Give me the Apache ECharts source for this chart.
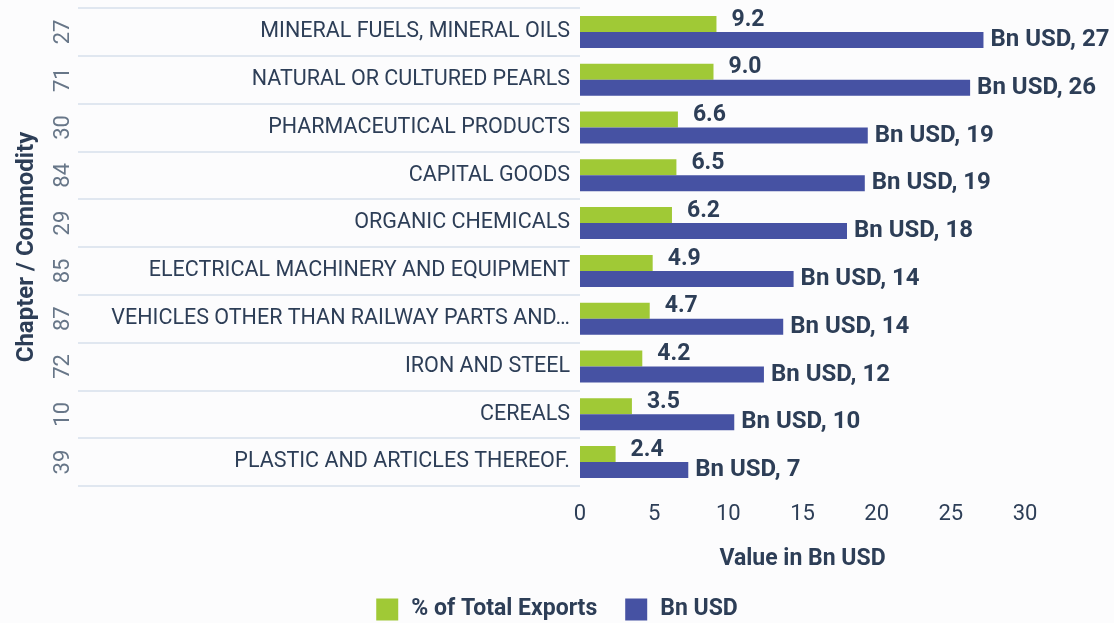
<!DOCTYPE html>
<html>
<head>
<meta charset="utf-8">
<script src="https://cdn.jsdelivr.net/npm/echarts@6/dist/echarts.min.js"></script>
<style>
  html, body { margin: 0; padding: 0; background: #fcfcfd; }
  #main { width: 1114px; height: 623px; }
</style>
</head>
<body>
<div id="main"></div>
<script>
var chapters = ['27', '71', '30', '84', '29', '85', '87', '72', '10', '39'];
var commodities = [
  'MINERAL FUELS, MINERAL OILS',
  'NATURAL OR CULTURED PEARLS',
  'PHARMACEUTICAL PRODUCTS',
  'CAPITAL GOODS',
  'ORGANIC CHEMICALS',
  'ELECTRICAL MACHINERY AND EQUIPMENT',
  'VEHICLES OTHER THAN RAILWAY PARTS AND\u2026',
  'IRON AND STEEL',
  'CEREALS',
  'PLASTIC AND ARTICLES THEREOF.'
];
var sharePct = [9.2, 9.0, 6.6, 6.5, 6.2, 4.9, 4.7, 4.2, 3.5, 2.4];
var valueBn = [27.2, 26.3, 19.4, 19.2, 18.0, 14.4, 13.7, 12.4, 10.4, 7.3];

var textDark = '#2d3e57';
var chartDom = document.getElementById('main');
var myChart = echarts.init(chartDom);
var option;

option = {
  backgroundColor: '#fcfcfd',
  textStyle: { fontFamily: 'Roboto' },
  grid: { left: 580, right: 89, top: 8, bottom: 137 },
  legend: {
    bottom: -3,
    left: 'center',
    itemWidth: 22,
    itemHeight: 22,
    itemGap: 28,
    icon: 'rect',
    textStyle: { color: textDark, fontSize: 23, fontWeight: 'bold', fontFamily: 'Roboto', padding: [0, 0, 0, 8] },
    data: ['% of Total Exports', 'Bn USD']
  },
  xAxis: {
    type: 'value',
    min: 0,
    max: 30,
    interval: 5,
    name: 'Value in Bn USD',
    nameLocation: 'middle',
    nameGap: 62,
    nameTextStyle: { color: textDark, fontSize: 23, fontWeight: 'bold' },
    axisLine: { show: false },
    axisTick: { show: false },
    splitLine: { show: false },
    axisLabel: { color: textDark, fontSize: 22, margin: 17 }
  },
  yAxis: [
    {
      type: 'category',
      inverse: true,
      data: commodities,
      name: 'Chapter / Commodity',
      nameLocation: 'middle',
      nameGap: 541,
      nameRotate: 90,
      nameTextStyle: { color: textDark, fontSize: 24, fontWeight: 'bold' },
      axisLine: { show: false },
      axisTick: { show: true, length: 502, lineStyle: { color: '#e0e7f0', width: 2 } },
      axisLabel: { color: textDark, fontSize: 21.5, margin: 10 }
    },
    {
      type: 'category',
      inverse: true,
      position: 'left',
      offset: 498,
      data: chapters,
      axisLine: { show: false },
      axisTick: { show: false },
      axisLabel: { color: '#677688', fontSize: 22, rotate: 90, margin: 8 }
    }
  ],
  series: [
    {
      name: '% of Total Exports',
      type: 'bar',
      yAxisIndex: 0,
      data: sharePct,
      barWidth: 16,
      barGap: '0%',
      itemStyle: { color: '#a0c936' },
      label: {
        show: true,
        position: 'right',
        distance: 15,
        offset: [0, -4],
        color: textDark,
        fontSize: 23,
        fontWeight: 'bold',
        formatter: function (p) { return p.value.toFixed(1); }
      }
    },
    {
      name: 'Bn USD',
      type: 'bar',
      yAxisIndex: 0,
      data: valueBn,
      barWidth: 16,
      barGap: '0%',
      itemStyle: { color: '#4652a3' },
      label: {
        show: true,
        position: 'right',
        distance: 7,
        color: textDark,
        fontSize: 24,
        fontWeight: 'bold',
        formatter: function (p) { return 'Bn USD, ' + Math.round(p.value); }
      }
    }
  ]
};

option && myChart.setOption(option);
</script>
</body>
</html>
